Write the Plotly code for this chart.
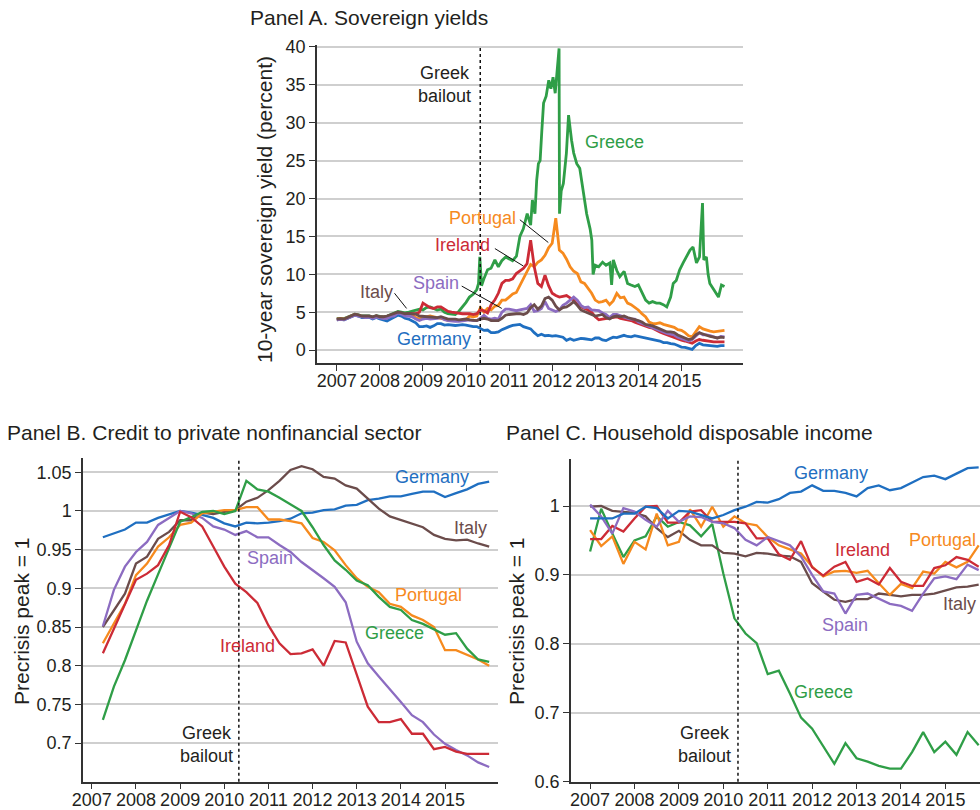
import numpy as np
import plotly.graph_objects as go

# ---------------------------------------------------------------- data
# Panel A: 10-year sovereign yields (percent), monthly from Jan 2007 to Jan 2016
months_a = 2007 + np.arange(109) / 12.0

germany_yield = [
    4.0, 4.05, 4.0, 4.2, 4.35, 4.6, 4.5, 4.3, 4.3, 4.35, 4.1, 4.3,
    4.1, 3.95, 3.85, 4.1, 4.3, 4.6, 4.5, 4.2, 4.1, 3.9, 3.6, 3.1,
    3.1, 3.2, 3.0, 3.2, 3.5, 3.5, 3.3, 3.35, 3.3, 3.25, 3.3, 3.35,
    3.3, 3.15, 3.1, 3.1, 2.8, 2.6, 2.65, 2.3, 2.3, 2.4, 2.7, 2.95,
    3.1, 3.25, 3.3, 3.4, 3.1, 3.0, 2.8, 2.3, 1.9, 2.1, 1.9, 1.95,
    1.85, 1.9, 1.85, 1.7, 1.3, 1.5, 1.3, 1.45, 1.55, 1.5, 1.4, 1.35,
    1.6, 1.6, 1.35, 1.25, 1.5, 1.7, 1.65, 1.85, 1.95, 1.8, 1.75, 1.9,
    1.8, 1.65, 1.6, 1.5, 1.4, 1.35, 1.2, 1.0, 1.0, 0.85, 0.8, 0.6,
    0.4, 0.35, 0.2, 0.1, 0.6, 0.9, 0.7, 0.65, 0.6, 0.55, 0.5, 0.6,
    0.6,
]
portugal_yield = [
    4.1, 4.15, 4.1, 4.3, 4.45, 4.7, 4.6, 4.45, 4.45, 4.45, 4.3, 4.45,
    4.3, 4.25, 4.3, 4.5, 4.6, 4.9, 4.85, 4.7, 4.7, 4.6, 4.3, 4.1,
    4.3, 4.4, 4.5, 4.4, 4.3, 4.3, 4.1, 3.9, 3.9, 3.9, 3.9, 3.9,
    4.0, 4.5, 4.4, 4.5, 5.6, 5.0, 5.5, 5.3, 5.8, 5.9, 6.6, 6.6,
    7.0, 7.4, 7.6, 8.5, 9.5, 10.5, 11.3, 11.0, 11.6, 11.9, 12.5, 13.5,
    14.1, 17.4, 13.2, 12.8, 12.0, 11.0, 10.4, 10.1, 9.0, 8.8, 8.2, 7.5,
    6.6, 6.3, 6.4, 6.6, 6.0, 6.5, 7.5, 6.9, 7.0, 6.2, 6.0, 5.7,
    5.3, 4.8, 4.4, 3.7, 3.5, 3.5, 3.6, 3.4, 3.3, 3.2, 3.0, 2.7,
    2.6, 2.3, 1.9, 1.75, 2.4, 3.1, 2.8, 2.6, 2.5, 2.4, 2.5, 2.5,
    2.6,
]
ireland_yield = [
    4.05, 4.1, 4.05, 4.25, 4.4, 4.65, 4.55, 4.4, 4.4, 4.4, 4.3, 4.5,
    4.35, 4.35, 4.45, 4.6, 4.7, 5.0, 4.9, 4.7, 4.8, 4.8, 4.8, 5.0,
    6.2, 5.9, 5.6, 5.5, 5.7, 5.7, 5.4, 5.1, 5.0, 4.9, 4.8, 4.8,
    4.8, 4.8, 4.7, 4.8, 5.3, 5.2, 4.9, 6.0, 6.6, 7.5, 8.8, 9.2,
    9.2, 9.4, 10.1, 10.4, 10.8, 11.4, 14.5, 11.0, 8.8, 8.4, 9.9, 8.5,
    7.5, 7.2, 7.0, 7.1, 7.2, 6.9, 6.6, 6.0, 5.7, 5.5, 5.3, 5.0,
    4.4, 4.0, 4.1, 4.2, 4.2, 4.3, 4.4, 4.2, 4.1, 4.0, 3.9, 3.7,
    3.5, 3.4, 3.2, 3.0, 2.9, 2.6, 2.4, 2.2, 2.0, 1.8, 1.7, 1.5,
    1.3, 1.2, 1.0, 0.9, 1.2, 1.4, 1.3, 1.2, 1.2, 1.1, 1.1, 1.1,
    1.1,
]
spain_yield = [
    4.0, 4.05, 4.0, 4.2, 4.35, 4.6, 4.5, 4.35, 4.3, 4.35, 4.2, 4.35,
    4.2, 4.15, 4.2, 4.45, 4.5, 4.9, 4.75, 4.5, 4.5, 4.4, 4.1, 3.9,
    4.1, 4.2, 4.1, 4.1, 4.2, 4.3, 4.0, 3.9, 3.8, 3.8, 3.8, 3.9,
    4.0, 4.0, 3.9, 3.9, 4.2, 4.6, 4.2, 4.1, 4.2, 4.1, 5.0, 5.4,
    5.4, 5.3, 5.2, 5.3, 5.4, 5.5, 6.0, 5.1, 5.2, 5.5, 6.4, 5.5,
    5.3, 5.1, 5.3, 5.9, 6.2, 6.6, 7.0, 6.6, 5.9, 5.6, 5.7, 5.3,
    5.2, 5.2, 4.9, 4.7, 4.3, 4.7, 4.7, 4.5, 4.3, 4.2, 4.1, 4.1,
    3.7, 3.5, 3.3, 3.1, 2.9, 2.7, 2.6, 2.3, 2.2, 2.1, 2.0, 1.7,
    1.5, 1.3, 1.2, 1.4, 1.9, 2.3, 2.0, 2.0, 1.9, 1.7, 1.6, 1.8,
    1.75,
]
italy_yield = [
    4.1, 4.15, 4.1, 4.3, 4.45, 4.75, 4.65, 4.5, 4.5, 4.5, 4.4, 4.55,
    4.4, 4.4, 4.5, 4.65, 4.75, 5.0, 4.95, 4.8, 4.85, 4.8, 4.75, 4.5,
    4.45, 4.45, 4.4, 4.3, 4.3, 4.4, 4.2, 4.1, 4.1, 4.1, 4.0, 4.1,
    4.1, 4.0, 3.9, 3.9, 4.1, 4.2, 4.1, 3.9, 3.9, 3.9, 4.2, 4.6,
    4.7, 4.8, 4.8, 4.8, 4.7, 4.9, 5.6, 6.0, 5.4, 5.8, 6.8, 7.0,
    6.6, 5.8, 5.3, 5.6, 5.7, 6.0, 6.4, 5.9, 5.3, 5.1, 4.9, 4.7,
    4.5, 4.6, 4.7, 4.3, 4.1, 4.4, 4.5, 4.4, 4.5, 4.3, 4.2, 4.1,
    3.9, 3.7, 3.4, 3.3, 3.2, 3.0, 2.8, 2.6, 2.4, 2.4, 2.3, 2.0,
    1.8, 1.6, 1.4, 1.5, 2.0, 2.3, 2.1, 1.9, 1.8, 1.7, 1.6, 1.7,
    1.65,
]
# Greece moves fast, so it gets its own (denser) time stamps
greece_t = [
    2007.00, 2007.08, 2007.17, 2007.25, 2007.33, 2007.42, 2007.50, 2007.58,
    2007.67, 2007.75, 2007.83, 2007.92, 2008.00, 2008.08, 2008.17, 2008.25,
    2008.33, 2008.42, 2008.50, 2008.58, 2008.67, 2008.75, 2008.83, 2008.92,
    2009.00, 2009.08, 2009.17, 2009.25, 2009.33, 2009.42, 2009.50, 2009.58,
    2009.67, 2009.75, 2009.83, 2009.92, 2010.00, 2010.08, 2010.17, 2010.25,
    2010.29, 2010.32, 2010.36, 2010.42, 2010.50, 2010.58, 2010.67, 2010.75,
    2010.83, 2010.92, 2011.00, 2011.08, 2011.17, 2011.25, 2011.33, 2011.42,
    2011.50, 2011.54, 2011.60, 2011.64, 2011.68, 2011.72, 2011.76, 2011.80,
    2011.86, 2011.92, 2011.97, 2012.02, 2012.07, 2012.12, 2012.16, 2012.17,
    2012.21, 2012.26, 2012.33, 2012.38, 2012.42, 2012.45, 2012.50, 2012.57,
    2012.64, 2012.72, 2012.80, 2012.88, 2012.92, 2012.95, 2013.00, 2013.08,
    2013.17, 2013.25, 2013.34, 2013.38, 2013.42, 2013.50, 2013.57, 2013.67,
    2013.75, 2013.83, 2013.92, 2014.00, 2014.08, 2014.17, 2014.25, 2014.33,
    2014.42, 2014.50, 2014.58, 2014.66, 2014.75, 2014.81, 2014.88, 2014.96,
    2015.04, 2015.12, 2015.20, 2015.27, 2015.35, 2015.42, 2015.49, 2015.52,
    2015.58, 2015.62, 2015.66, 2015.75, 2015.81, 2015.86, 2015.93, 2016.00,
]
greece_yield = [
    4.15, 4.2, 4.15, 4.35, 4.5, 4.75, 4.65, 4.5,
    4.5, 4.5, 4.35, 4.55, 4.45, 4.4, 4.5, 4.7,
    4.85, 5.1, 5.0, 4.9, 5.0, 5.1, 5.2, 5.4,
    5.3, 5.6, 5.7, 5.5, 5.3, 5.4, 5.0, 4.8,
    4.7, 4.7, 5.1, 5.7, 6.3, 7.0, 7.4, 8.0,
    8.8, 12.3, 8.5, 9.5, 10.6, 10.8, 11.9, 11.0,
    11.8, 12.3, 12.0, 11.8, 12.4, 15.0, 16.0, 18.0,
    16.5, 19.8, 18.0, 22.4, 24.6, 25.0, 29.0, 32.6,
    33.5, 35.6, 34.5, 36.0, 33.9, 37.0, 39.8, 18.0,
    21.0, 22.0, 26.0, 31.0, 29.0, 27.7, 26.0, 24.6,
    24.0, 21.0, 18.0, 16.0, 14.5, 10.0, 11.2, 11.0,
    11.6, 11.2, 11.5, 8.6, 11.9, 10.5, 9.7, 10.4,
    8.8, 8.6, 8.4, 8.6, 7.6, 6.6, 6.2, 6.4,
    6.2, 6.2, 6.0, 5.7, 7.0, 8.8, 9.2, 10.6,
    11.5, 12.3, 13.2, 13.6, 11.5, 12.3, 19.4, 11.9,
    12.3, 10.0, 8.8, 8.0, 7.5, 7.0, 8.6, 8.4,
]

# Panel B: credit to private nonfinancial sector, quarterly 2007Q2-2016Q1 (precrisis peak = 1)
quarters_b = 2007.25 + 0.25 * np.arange(36)
credit_germany = [0.966, 0.971, 0.976, 0.985, 0.985, 0.991, 0.996, 1.000, 0.998, 0.995, 0.991, 0.984,
                  0.980, 0.985, 0.984, 0.985, 0.987, 0.990, 0.997, 0.998, 1.001, 1.002, 1.007, 1.008,
                  1.014, 1.016, 1.019, 1.019, 1.022, 1.025, 1.025, 1.018, 1.023, 1.028, 1.035, 1.038]
credit_italy = [0.850, 0.872, 0.893, 0.932, 0.941, 0.964, 0.973, 0.988, 0.988, 0.998, 0.996, 0.999,
                1.001, 1.012, 1.017, 1.027, 1.039, 1.053, 1.058, 1.054, 1.044, 1.042, 1.033, 1.029,
                1.016, 1.003, 0.993, 0.988, 0.983, 0.979, 0.969, 0.964, 0.962, 0.963, 0.958, 0.954]
credit_spain = [0.851, 0.898, 0.928, 0.947, 0.960, 0.982, 0.991, 1.000, 0.997, 0.991, 0.980, 0.976,
                0.969, 0.974, 0.966, 0.966, 0.956, 0.947, 0.934, 0.924, 0.913, 0.902, 0.882, 0.831,
                0.803, 0.786, 0.770, 0.753, 0.736, 0.727, 0.711, 0.699, 0.691, 0.684, 0.675, 0.669]
credit_ireland = [0.816, 0.847, 0.879, 0.911, 0.919, 0.930, 0.956, 0.999, 0.992, 0.980, 0.954, 0.928,
                  0.906, 0.895, 0.881, 0.852, 0.829, 0.815, 0.816, 0.821, 0.800, 0.832, 0.830, 0.788,
                  0.747, 0.727, 0.727, 0.731, 0.712, 0.712, 0.692, 0.695, 0.689, 0.686, 0.686, 0.686]
credit_portugal = [0.829, 0.855, 0.880, 0.917, 0.932, 0.954, 0.966, 0.982, 0.985, 0.997, 0.999, 1.001,
                   1.001, 1.005, 1.005, 0.989, 0.989, 0.987, 0.984, 0.965, 0.960, 0.949, 0.930, 0.913,
                   0.902, 0.895, 0.880, 0.876, 0.865, 0.859, 0.850, 0.820, 0.820, 0.814, 0.808, 0.800]
credit_greece = [0.730, 0.773, 0.807, 0.846, 0.884, 0.918, 0.952, 0.986, 0.992, 0.999, 1.000, 0.996,
                 1.000, 1.039, 1.028, 1.025, 1.017, 1.008, 1.000, 0.979, 0.956, 0.936, 0.924, 0.910,
                 0.904, 0.889, 0.876, 0.872, 0.859, 0.854, 0.847, 0.840, 0.842, 0.822, 0.808, 0.805]

# Panel C: household disposable income, quarterly 2007Q1-2015Q4 (precrisis peak = 1)
quarters_c = 2007.0 + 0.25 * np.arange(36)
income_germany = [0.982, 0.982, 0.982, 0.989, 0.989, 0.999, 0.997, 0.982, 0.993, 0.992, 0.987, 0.982,
                  0.987, 0.994, 0.999, 1.006, 1.005, 1.010, 1.019, 1.021, 1.030, 1.022, 1.022, 1.019,
                  1.014, 1.026, 1.030, 1.023, 1.026, 1.034, 1.042, 1.044, 1.039, 1.047, 1.055, 1.056]
income_greece = [0.934, 0.996, 0.960, 0.926, 0.950, 0.956, 0.985, 0.970, 0.977, 0.972, 0.956, 0.974,
                 0.902, 0.837, 0.815, 0.801, 0.756, 0.761, 0.728, 0.693, 0.677, 0.651, 0.626, 0.656,
                 0.634, 0.629, 0.623, 0.619, 0.619, 0.643, 0.672, 0.643, 0.658, 0.639, 0.672, 0.653]
income_italy = [0.999, 1.000, 0.993, 0.991, 0.990, 0.985, 0.968, 0.955, 0.964, 0.951, 0.943, 0.943,
                0.932, 0.931, 0.927, 0.932, 0.931, 0.928, 0.927, 0.919, 0.888, 0.876, 0.864, 0.861,
                0.865, 0.865, 0.873, 0.871, 0.869, 0.871, 0.871, 0.873, 0.877, 0.882, 0.883, 0.886]
income_spain = [1.002, 0.985, 0.960, 0.997, 0.992, 0.980, 0.970, 0.993, 0.977, 0.985, 0.984, 0.977,
                0.975, 0.968, 0.951, 0.943, 0.955, 0.949, 0.943, 0.927, 0.900, 0.876, 0.873, 0.844,
                0.871, 0.873, 0.866, 0.858, 0.855, 0.848, 0.873, 0.895, 0.898, 0.894, 0.915, 0.907]
income_ireland = [0.952, 0.952, 0.971, 0.963, 0.982, 0.999, 1.000, 0.976, 0.976, 0.992, 0.994, 0.977,
                  0.977, 0.977, 0.975, 0.953, 0.953, 0.930, 0.922, 0.949, 0.911, 0.899, 0.912, 0.919,
                  0.890, 0.895, 0.886, 0.910, 0.890, 0.884, 0.884, 0.910, 0.914, 0.926, 0.922, 0.912]
income_portugal = [0.965, 0.942, 0.956, 0.916, 0.948, 0.937, 0.989, 0.943, 0.948, 0.995, 0.970, 0.999,
                   0.970, 0.985, 0.975, 0.972, 0.955, 0.943, 0.937, 0.931, 0.912, 0.898, 0.905, 0.906,
                   0.903, 0.906, 0.888, 0.871, 0.887, 0.881, 0.905, 0.902, 0.919, 0.911, 0.919, 0.943]

year_ticks = list(range(2007, 2016))
year_labels = [str(y) for y in year_ticks]
yield_ticks = list(range(0, 41, 5))
credit_ticks = [0.7, 0.75, 0.8, 0.85, 0.9, 0.95, 1.0, 1.05]
credit_labels = ["0.7", "0.75", "0.8", "0.85", "0.9", "0.95", "1", "1.05"]
income_ticks = [0.6, 0.7, 0.8, 0.9, 1.0]
income_labels = ["0.6", "0.7", "0.8", "0.9", "1"]
bailout = 2010.33  # first Greek bailout, May 2010

# ---------------------------------------------------------------- style
FONT = "Liberation Sans, Arial, Helvetica, sans-serif"
TXT = "#231f20"
GRID = "#cfcfcf"
COL = {
    "Germany": "#1f6fc1",
    "Greece": "#2f9e47",
    "Portugal": "#f68a1e",
    "Ireland": "#cc2b36",
    "Spain": "#8c6cc1",
    "Italy": "#6b4c4b",
}

fig = go.Figure()


def add_line(x, y, name, axis, width):
    fig.add_trace(go.Scatter(
        x=list(x), y=y, mode="lines", name=name,
        line=dict(color=COL[name], width=width),
        xaxis="x" + axis, yaxis="y" + axis, hoverinfo="skip",
    ))


# Panel A
add_line(greece_t, greece_yield, "Greece", "", 2.8)
add_line(months_a, portugal_yield, "Portugal", "", 2.8)
add_line(months_a, ireland_yield, "Ireland", "", 2.8)
add_line(months_a, germany_yield, "Germany", "", 2.8)
add_line(months_a, spain_yield, "Spain", "", 2.8)
add_line(months_a, italy_yield, "Italy", "", 2.8)

# Panel B
add_line(quarters_b, credit_germany, "Germany", "2", 2.3)
add_line(quarters_b, credit_italy, "Italy", "2", 2.3)
add_line(quarters_b, credit_spain, "Spain", "2", 2.3)
add_line(quarters_b, credit_portugal, "Portugal", "2", 2.3)
add_line(quarters_b, credit_greece, "Greece", "2", 2.3)
add_line(quarters_b, credit_ireland, "Ireland", "2", 2.3)

# Panel C
add_line(quarters_c, income_greece, "Greece", "3", 2.3)
add_line(quarters_c, income_italy, "Italy", "3", 2.3)
add_line(quarters_c, income_portugal, "Portugal", "3", 2.3)
add_line(quarters_c, income_ireland, "Ireland", "3", 2.3)
add_line(quarters_c, income_spain, "Spain", "3", 2.3)
add_line(quarters_c, income_germany, "Germany", "3", 2.3)

W, H = 980, 810


def xdom(a, b):
    return [a / W, b / W]


def ydom(top, bottom):
    return [1 - bottom / H, 1 - top / H]


common_x = dict(showline=True, linecolor="#333333", linewidth=1.5, ticks="outside",
                ticklen=6, tickwidth=1.2, tickcolor="#333333", showgrid=False,
                zeroline=False, automargin=False, tickvals=year_ticks, ticktext=year_labels,
                ticklabelstandoff=-5,
                tickfont=dict(size=18, color=TXT, family=FONT))
common_y = dict(showline=True, linecolor="#333333", linewidth=1.5, ticks="outside",
                ticklen=6, tickwidth=1.2, tickcolor="#333333", showgrid=True,
                gridcolor=GRID, gridwidth=2, zeroline=False, automargin=False,
                tickfont=dict(size=18, color=TXT, family=FONT))

fig.update_layout(
    width=W, height=H, autosize=False,
    margin=dict(l=0, r=0, t=0, b=0, autoexpand=False),
    paper_bgcolor="white", plot_bgcolor="white",
    showlegend=False,
    font=dict(family=FONT, color=TXT, size=18),
    xaxis=dict(common_x, domain=xdom(317, 743), anchor="y", range=[2006.54, 2016.43]),
    yaxis=dict(common_y, domain=ydom(45, 363), anchor="x", range=[-1.7, 40.26],
               tickvals=yield_ticks),
    xaxis2=dict(common_x, domain=xdom(83, 498), anchor="y2", range=[2006.80, 2016.2]),
    yaxis2=dict(common_y, domain=ydom(458, 781.7), anchor="x2", range=[0.650, 1.0685],
                tickvals=credit_ticks, ticktext=credit_labels),
    xaxis3=dict(common_x, domain=xdom(571, 980), anchor="y3", range=[2006.57, 2015.78]),
    yaxis3=dict(common_y, domain=ydom(459.3, 781.7), anchor="x3", range=[0.6, 1.0678],
                tickvals=income_ticks, ticktext=income_labels),
)

# Greek bailout markers
for ax in ["", "2", "3"]:
    fig.add_shape(type="line", xref="x" + ax, yref="y" + ax + " domain",
                  x0=bailout, x1=bailout, y0=0, y1=1,
                  line=dict(color="#111111", width=1.5, dash="dot"))

# leader lines connecting labels to series in panel A
leaders = [
    (2011.25, 17.2, 2011.91, 14.2),
    (2010.67, 13.4, 2011.33, 11.1),
    (2009.90, 8.45, 2010.83, 5.5),
    (2008.34, 7.5, 2008.62, 5.5),
]
for x0, y0, x1, y1 in leaders:
    fig.add_shape(type="line", xref="x", yref="y", x0=x0, y0=y0, x1=x1, y1=y1,
                  line=dict(color="#111111", width=1))


def label(text, x, y, ax, color, anchor="left", size=18):
    fig.add_annotation(text=text, x=x, y=y, xref="x" + ax, yref="y" + ax,
                       showarrow=False, xanchor=anchor, yanchor="middle",
                       font=dict(size=size, color=color, family=FONT))


# Panel A labels
label("Greece", 2012.71, 27.5, "", COL["Greece"])
label("Portugal", 2011.21, 17.4, "", COL["Portugal"], "right")
label("Ireland", 2010.60, 13.9, "", COL["Ireland"], "right")
label("Spain", 2009.88, 8.85, "", COL["Spain"], "right")
label("Italy", 2008.35, 7.66, "", COL["Italy"], "right")
label("Germany", 2010.16, 1.45, "", COL["Germany"], "right")
label("Greek<br>bailout", 2010.16, 35.0, "", TXT, "right")

# Panel B labels
label("Germany", 2013.82, 1.0435, "2", COL["Germany"])
label("Italy", 2015.16, 0.9776, "2", COL["Italy"])
label("Spain", 2010.47, 0.9389, "2", COL["Spain"])
label("Portugal", 2013.82, 0.891, "2", COL["Portugal"])
label("Greece", 2013.14, 0.842, "2", COL["Greece"])
label("Ireland", 2009.86, 0.8252, "2", COL["Ireland"])
label("Greek<br>bailout", 2010.25, 0.6985, "2", TXT, "right")

# Panel C labels
label("Germany", 2011.55, 1.0479, "3", COL["Germany"])
label("Ireland", 2012.47, 0.936, "3", COL["Ireland"])
label("Portugal", 2015.74, 0.9507, "3", COL["Portugal"], "right")
label("Italy", 2015.74, 0.858, "3", COL["Italy"], "right")
label("Spain", 2012.18, 0.827, "3", COL["Spain"])
label("Greece", 2011.55, 0.730, "3", COL["Greece"])
label("Greek<br>bailout", 2010.21, 0.6546, "3", TXT, "right")


def paper_text(text, px, py, size, anchor="left", angle=0):
    fig.add_annotation(text=text, x=px / W, y=1 - py / H, xref="paper", yref="paper",
                       showarrow=False, xanchor=anchor, yanchor="middle", textangle=angle,
                       font=dict(size=size, color=TXT, family=FONT))


# panel titles
paper_text("Panel A. Sovereign yields", 248, 17, 21)
paper_text("Panel B. Credit to private nonfinancial sector", 5, 432, 21)
paper_text("Panel C. Household disposable income", 504, 432, 21)

# axis titles
paper_text("10-year sovereign yield (percent)", 264, 210, 21, "center", -90)
paper_text("Precrisis peak = 1", 21, 621, 21, "center", -90)
paper_text("Precrisis peak = 1", 516, 621, 21, "center", -90)

fig.write_html("out.html")
